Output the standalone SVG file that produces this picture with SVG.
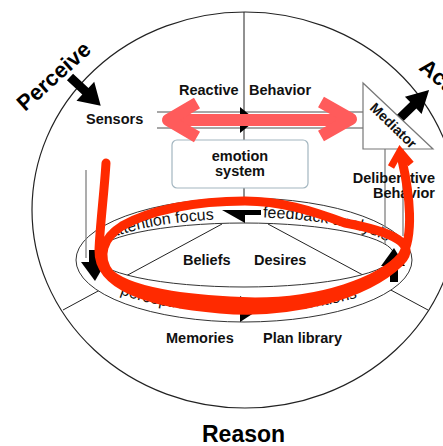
<svg xmlns="http://www.w3.org/2000/svg" width="443" height="446" viewBox="0 0 443 446">
  <style>
    .lbl { font-family: "Liberation Sans", Arial, sans-serif; font-weight: bold; font-size: 14.5px; fill: #111; }
    .big { font-family: "Liberation Sans", Arial, sans-serif; font-weight: bold; font-size: 22px; fill: #000; }
    .band { font-family: "Liberation Sans", Arial, sans-serif; font-size: 16px; fill: #111; }
    .thin { stroke: #222; stroke-width: 1; fill: none; }
    .chan { stroke: #8a8a8a; stroke-width: 1.4; fill: none; }
    .blk { fill: #000; stroke: none; }
  </style>
  <defs>
    <path id="tp-attn" d="M 112,238 A 155,40 0 0 1 399,257"/>
    <path id="tp-feed" d="M 263,217.5 A 155,40 0 0 1 399,257"/>
    <path id="tp-perc" d="M 120,294 A 160,50 0 0 0 404,262"/>
    <path id="tp-intn" d="M 290,310 A 160,50 0 0 0 404,262"/>
  </defs>

  <rect width="443" height="446" fill="#fff"/>

  <!-- sphere outline and sector dividers -->
  <g id="sphere">
    <ellipse cx="245" cy="210" rx="213" ry="198" fill="none" stroke="#222" stroke-width="1.2"/>
    <line class="thin" x1="244" y1="12" x2="244" y2="140"/>
    <line class="thin" x1="222" y1="224" x2="63" y2="310"/>
    <line class="thin" x1="268" y1="224" x2="428" y2="310"/>
  </g>

  <!-- reasoning ring -->
  <g id="ring">
    <path d="M 76,260 A 168,62 0 1 0 412,260 A 168,62 0 1 0 76,260 Z M 94,255 A 150,32 0 1 0 394,255 A 150,32 0 1 0 94,255 Z"
          fill="#fff" fill-rule="evenodd" stroke="#333" stroke-width="1"/>
    <text class="band"><textPath href="#tp-attn">attention focus</textPath></text>
    <text class="band"><textPath href="#tp-feed">feedback analysis</textPath></text>
    <text class="band"><textPath href="#tp-perc">perception</textPath></text>
    <text class="band"><textPath href="#tp-intn">intentions</textPath></text>
    <polygon class="blk" points="222,210 261,210 261,215 245,215 245,223"/>
    <polygon class="blk" points="240,296 260,309 240,322"/>
    <rect class="blk" x="89" y="250" width="10" height="12"/>
    <polygon class="blk" points="81,262 106,262 95,281"/>
    <rect class="blk" x="390" y="265" width="8" height="17"/>
    <polygon class="blk" points="381,266 394,248 405,266"/>
  </g>

  <!-- connectors: channels and flows -->
  <g id="connectors">
    <line class="chan" x1="157" y1="112" x2="363" y2="112"/>
    <line class="chan" x1="157" y1="128" x2="363" y2="128"/>
    <polygon class="blk" points="240,107 256,120 240,133"/>
    <line class="chan" x1="86" y1="170" x2="86" y2="258"/>
    <line class="chan" x1="385" y1="149" x2="385" y2="244"/>
    <line class="chan" x1="403" y1="149" x2="403" y2="236"/>
    <line class="thin" x1="244" y1="188" x2="244" y2="198"/>
    <!-- perceive arrow -->
    <path class="blk" transform="translate(70,77) rotate(43)" d="M0,-4.5 L21,-4.5 L21,-13 L42,0 L21,13 L21,4.5 L0,4.5 Z"/>
    <!-- act arrow -->
    <path class="blk" transform="translate(396,122) rotate(-44)" d="M0,-4.5 L24,-4.5 L24,-12 L46,0 L24,12 L24,4.5 L0,4.5 Z"/>
  </g>

  <g id="emotion-system">
    <rect x="172" y="140" width="136" height="48" rx="5" fill="#fff" stroke="#a3b6c0" stroke-width="1.2"/>
    <text class="lbl" x="240" y="161" text-anchor="middle">emotion</text>
    <text class="lbl" x="240" y="176" text-anchor="middle">system</text>
  </g>

  <g id="mediator">
    <polygon points="363,83 363,149 433,149" fill="#fff" stroke="#777" stroke-width="1.2"/>
    <text class="lbl" style="font-size:14px" transform="translate(390,129) rotate(44)" text-anchor="middle">Mediator</text>
  </g>

  <g id="sensors"><text class="lbl" x="86" y="124">Sensors</text></g>
  <g id="reactive-behavior"><text class="lbl" x="179" y="95">Reactive <tspan x="249">Behavior</tspan></text></g>
  <g id="deliberative-behavior">
    <text class="lbl" x="435" y="183" text-anchor="end">Deliberative</text>
    <text class="lbl" x="435" y="198" text-anchor="end">Behavior</text>
  </g>
  <g id="beliefs"><text class="lbl" x="183" y="265">Beliefs</text></g>
  <g id="desires"><text class="lbl" x="254" y="265">Desires</text></g>
  <g id="memories"><text class="lbl" x="166" y="343">Memories</text></g>
  <g id="plan-library"><text class="lbl" x="263" y="343">Plan library</text></g>
  <g id="perceive"><text class="big" transform="translate(25,112) rotate(-42)">Perceive</text></g>
  <g id="act"><text class="big" transform="translate(418,69) rotate(40)">Act</text></g>
  <g id="reason"><text class="big" style="font-size:23px" x="202" y="442">Reason</text></g>

  <!-- reactive double arrow -->
  <g id="reactive-flow" fill="none" stroke="#ff5b5b" stroke-width="12" stroke-linejoin="round">
    <line x1="174" y1="120" x2="346" y2="120"/>
    <polyline points="197,103 168,120 197,137"/>
    <polyline points="321,102 351,119 321,136"/>
  </g>

  <!-- deliberation loop -->
  <g id="deliberation-loop" fill="none" stroke="#ff2a00" stroke-width="9" stroke-linecap="round" stroke-linejoin="round">
    <path d="M 106,163 C 104,195 100,225 99,250 C 98,287 150,303 220,309 C 290,315 365,296 400,262 C 418,245 395,232 345,223 C 310,210 280,201 245,201 C 195,201 150,210 122,226 C 104,237 96,256 110,274 C 135,295 200,300 255,302 C 320,302 380,282 402,256 C 414,236 410,195 402,160"/>
    <polyline stroke-width="7" stroke-linecap="butt" stroke-linejoin="miter" points="391,167 400,151 411,164"/>
  </g>
</svg>
